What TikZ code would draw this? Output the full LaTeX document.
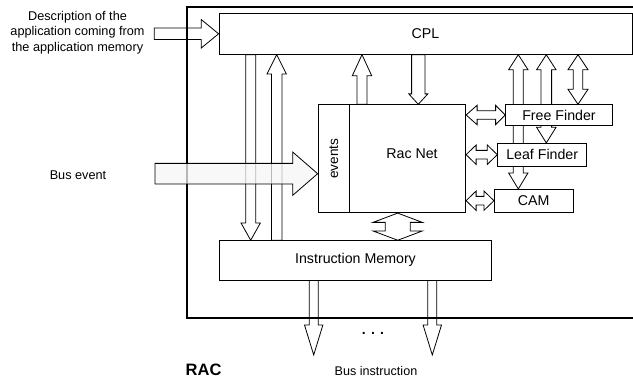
\documentclass[tikz,border=0pt]{standalone}
\usepackage{fontspec}
\setmainfont{Liberation Sans}
\usetikzlibrary{calc}
\pgfdeclarelayer{back}
\pgfsetlayers{back,main}

\tikzset{
  box/.style={draw, fill=white, line width=0.8pt, inner sep=0pt,
    font=\fontsize{14.2}{17}\selectfont},
  hollow/.style={draw, line width=0.8pt, line join=miter},
  frame/.style={draw, line width=1.3pt},
  caption/.style={font=\fontsize{12.7}{15.3}\selectfont, align=center},
}

% hollow block arrow: start, end, half shaft, half head, head length
\newcommand{\onearrow}[6][]{%
  \coordinate (ta) at #2;
  \coordinate (tb) at #3;
  \coordinate (th) at ($(tb)!#6!(ta)$);
  \path[hollow,#1] ($(ta)!#4!90:(tb)$) -- ($(th)!#4!90:(tb)$) -- ($(th)!#5!90:(tb)$) -- (tb)
    -- ($(th)!#5!-90:(tb)$) -- ($(th)!#4!-90:(tb)$) -- ($(ta)!#4!-90:(tb)$) -- cycle;
}
% hollow block arrow with two heads
\newcommand{\twoarrow}[7][]{%
  \coordinate (ta) at #2;
  \coordinate (tb) at #3;
  \coordinate (tha) at ($(ta)!#6!(tb)$);
  \coordinate (thb) at ($(tb)!#7!(ta)$);
  \path[hollow,#1] (ta) -- ($(tha)!#5!90:(tb)$) -- ($(tha)!#4!90:(tb)$)
    -- ($(thb)!#4!-90:(ta)$) -- ($(thb)!#5!-90:(ta)$) -- (tb)
    -- ($(thb)!#5!90:(ta)$) -- ($(thb)!#4!90:(ta)$)
    -- ($(tha)!#4!-90:(tb)$) -- ($(tha)!#5!-90:(tb)$) -- cycle;
}

\begin{document}
\begin{tikzpicture}[x=1pt, y=-1pt]
\useasboundingbox (0,0) rectangle (633,379);

% blocks
\node[box, minimum width=413pt, minimum height=41pt] (cpl) at (425.5,33.8) {CPL};
\node[box, minimum width=272.4pt, minimum height=39.3pt] (im) at (355.5,260.3) {Instruction Memory};
\node[box, minimum width=31.3pt, minimum height=108pt] (events) at (333.7,158.7)
  {\rotatebox{90}{\fontsize{13.6}{16}\selectfont events}};
\node[box, minimum width=116.4pt, minimum height=108pt] (racnet) at (407.5,158.7) {};
\node[font=\fontsize{14.2}{17}\selectfont] (racnettext) at ([xshift=4.5pt,yshift=4.7pt]racnet.center) {Rac Net};
\node[box, minimum width=106.6pt, minimum height=20.6pt] (free) at (559,115) {Free Finder};
\node[box, minimum width=89pt, minimum height=22.7pt] (leaf) at (542.2,154.7) {Leaf Finder};
\node[box, minimum width=78.7pt, minimum height=22.7pt] (cam) at (533.7,200.7) {CAM};

% lanes and free ends
\coordinate (la) at (250.7,0);
\coordinate (lb) at (276.7,0);
\coordinate (lc) at (362,0);
\coordinate (ld) at (418.3,0);
\coordinate (le) at (518.3,0);
\coordinate (lf) at (546.3,0);
\coordinate (lg) at (578,0);
\coordinate (lh) at (397.7,0);
\coordinate (descin) at (154.3,33.8);
\coordinate (busin) at (155,173.7);
\coordinate (outa) at (313.7,355);
\coordinate (outb) at (432.3,355);

\begin{pgfonlayer}{back}
\draw[frame] (633,7) -- (187,7) -- (187,318) -- (633,318);
\onearrow{(descin)}{(cpl.west)}{5.8pt}{14.2pt}{17.3pt}
\onearrow{(cpl.south -| la)}{(im.north -| la)}{5pt}{9.7pt}{17.3pt}
\onearrow{(im.north -| lb)}{(cpl.south -| lb)}{5.3pt}{9.7pt}{19.3pt}
\onearrow{(racnet.north -| lc)}{(cpl.south -| lc)}{5pt}{9.7pt}{21pt}
\onearrow{(cpl.south -| ld)}{(racnet.north -| ld)}{6.7pt}{9.5pt}{10.4pt}
\twoarrow{(cpl.south -| le)}{(cam.north -| le)}{5pt}{9.7pt}{15pt}{16pt}
\twoarrow{(cpl.south -| lf)}{(leaf.north -| lf)}{5.3pt}{9.7pt}{15pt}{15.6pt}
\twoarrow{(cpl.south -| lg)}{(free.north -| lg)}{4.7pt}{10pt}{15pt}{15pt}
\twoarrow{(racnet.south -| lh)}{(im.north -| lh)}{12.5pt}{24.7pt}{9.3pt}{9.3pt}
\twoarrow{(racnet.east |- free.west)}{(free.west)}{4.3pt}{9.7pt}{11pt}{9.7pt}
\twoarrow{(racnet.east |- leaf.west)}{(leaf.west)}{4.3pt}{9.7pt}{10pt}{10pt}
\twoarrow{(racnet.east |- cam.west)}{(cam.west)}{4.3pt}{9.7pt}{10pt}{10pt}
\onearrow{(im.south -| outa)}{(outa)}{4.5pt}{9.2pt}{30pt}
\onearrow{(im.south -| outb)}{(outb)}{4.5pt}{9.2pt}{30pt}
\end{pgfonlayer}

\onearrow[fill=black!4, fill opacity=0.75]{(busin)}{(events.west |- busin)}{10.3pt}{21.7pt}{25pt}

% labels
\node[caption] (desc) at (77.5,32.5) {Description of the\\application coming from\\the application memory};
\node[caption] (busev) at (78,175) {Bus event};
\node[font=\bfseries\fontsize{16.5}{20}\selectfont, anchor=west, inner sep=0pt] (rac) at (185.5,369.5) {RAC};
\node[font=\fontsize{12.6}{15}\selectfont] (busins) at (376,371.3) {Bus instruction};
\node[font=\bfseries\fontsize{14}{16}\selectfont] (dots) at (373,333) {. . .};
\end{tikzpicture}
\end{document}
